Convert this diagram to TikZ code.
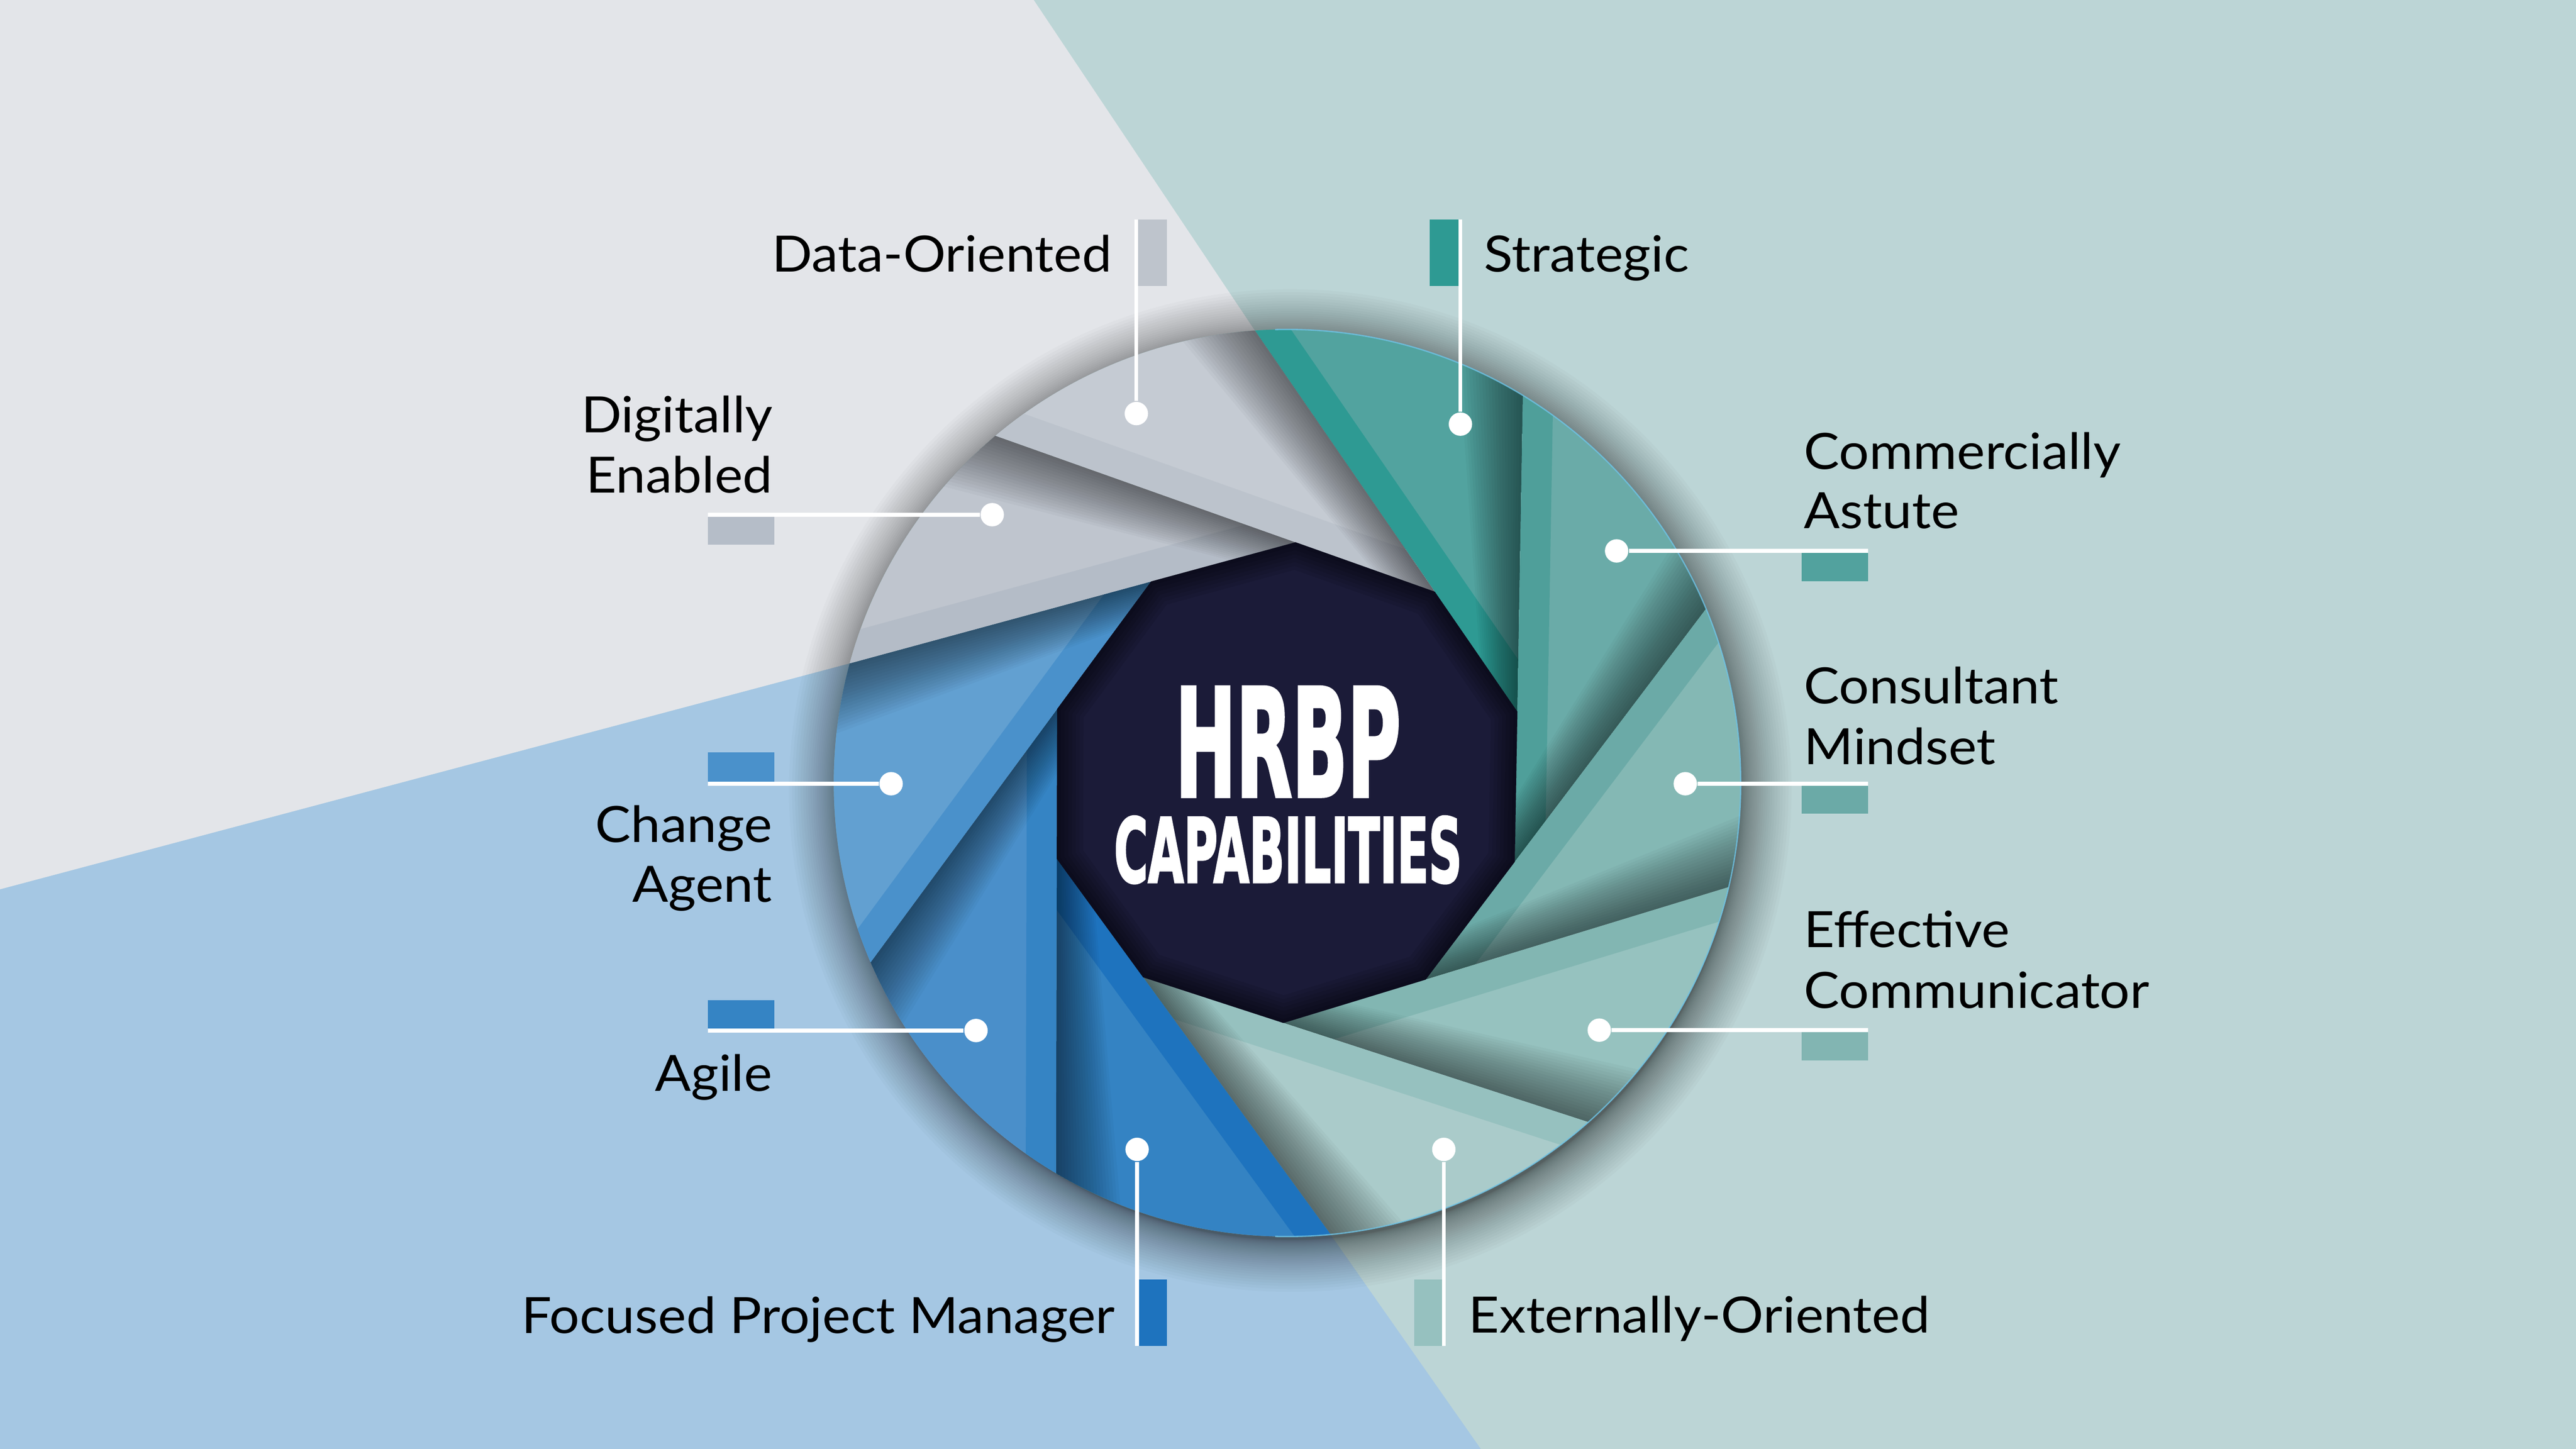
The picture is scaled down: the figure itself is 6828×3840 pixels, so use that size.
\documentclass[tikz,border=0pt]{standalone}
\usepackage{fontspec}
\usepackage{graphicx}
\usetikzlibrary{calc}
\newfontfamily\lblfont{Lato}[FakeStretch=1.065]
\newfontfamily\ttlfont{DejaVu Sans}[FakeBold=2.5]
\definecolor{bgGray}{HTML}{E3E5E9}
\definecolor{bgTeal}{HTML}{BCD5D6}
\definecolor{bgBlue}{HTML}{A5C7E3}
\definecolor{decFill}{HTML}{1B1B38}
\definecolor{rimLine}{HTML}{6EC3E6}
\definecolor{doBody}{HTML}{C5CBD3}\definecolor{doStripe}{HTML}{BCC3CC}
\definecolor{stBody}{HTML}{52A39F}\definecolor{stStripe}{HTML}{2E9A93}
\definecolor{caBody}{HTML}{6AABA8}\definecolor{caStripe}{HTML}{4F9F9A}
\definecolor{cmBody}{HTML}{84B8B4}\definecolor{cmStripe}{HTML}{6BAAA7}
\definecolor{ecBody}{HTML}{96C2BF}\definecolor{ecStripe}{HTML}{82B6B2}
\definecolor{eoBody}{HTML}{AACBCA}\definecolor{eoStripe}{HTML}{96C1BF}
\definecolor{fpBody}{HTML}{3483C3}\definecolor{fpStripe}{HTML}{1E73BE}
\definecolor{agBody}{HTML}{4A8FCA}\definecolor{agStripe}{HTML}{3584C4}
\definecolor{chBody}{HTML}{62A0D1}\definecolor{chStripe}{HTML}{4A91CB}
\definecolor{deBody}{HTML}{BFC5CE}\definecolor{deStripe}{HTML}{B4BCC7}
\definecolor{doKey}{HTML}{BEC4CC}\definecolor{stKey}{HTML}{2E9A93}
\definecolor{deKey}{HTML}{B5BDC8}\definecolor{caKey}{HTML}{52A29E}
\definecolor{cmKey}{HTML}{6BAAA7}\definecolor{ecKey}{HTML}{82B5B2}
\definecolor{chKey}{HTML}{4A91CB}\definecolor{agKey}{HTML}{3584C4}
\definecolor{fpKey}{HTML}{1E73BE}\definecolor{eoKey}{HTML}{96C1BF}
% one blade: #1 outer point of own edge, #2 apex, #3 outer point of next edge, #4 body, #5 stripe
\newcommand\Blade[5]{%
  \begin{scope}
    \clip (#1) -- (#2) -- (#3) -- cycle;
    \fill[#4] (#1) -- (#2) -- (#3) -- cycle;
    \draw[#5, line width=16pt] (#1) -- ($(#1)!1.05!(#2)$);
    \foreach \s in {15,30,...,300}
      \fill[black, opacity=0.028] (#2) -- (#3) -- ($(#3)!{\s*0.1pt}!-90:(#2)$) -- ($(#2)!{0.3*\s*0.1pt}!90:(#3)$) -- cycle;
  \end{scope}}
\tikzset{
  lbl/.style={inner sep=0pt, text=black, font=\lblfont\fontsize{13.26}{15.9}\selectfont},
  dot/.style={circle, fill=white, inner sep=0pt, minimum size=6.2pt},
  conn/.style={white, line width=1pt}
}
\begin{document}
\begin{tikzpicture}[x=0.1pt,y=-0.1pt]
\useasboundingbox (0,0) rectangle (6828,3840);
% geometry
\coordinate (C) at (3412,2075);
\coordinate (Ch) at (3420,2095);
\coordinate (A0) at (3434,1437);
\coordinate (A1) at (3803,1568);
\coordinate (A2) at (4022,1886);
\coordinate (A3) at (4015,2284);
\coordinate (A4) at (3779,2596);
\coordinate (A5) at (3402,2711);
\coordinate (A6) at (3030,2590);
\coordinate (A7) at (2801,2276);
\coordinate (A8) at (2802,1879);
\coordinate (A9) at (3051,1541);
\coordinate (F0) at ($(A1)!-6!(A2)$);
\coordinate (F1) at ($(A2)!-6!(A3)$);
\coordinate (F2) at ($(A3)!-6!(A4)$);
\coordinate (F3) at ($(A4)!-6!(A5)$);
\coordinate (F4) at ($(A5)!-6!(A6)$);
\coordinate (F5) at ($(A6)!-6!(A7)$);
\coordinate (F6) at ($(A7)!-6!(A8)$);
\coordinate (F7) at ($(A8)!-6!(A9)$);
\coordinate (F8) at ($(A9)!-6!(A0)$);
\coordinate (F9) at ($(A0)!-6!(A1)$);
% background
\fill[bgTeal] (0,0) rectangle (6828,3840);
\fill[bgGray] (0,0) -- (2740,0) -- (3326,876) -- (C) -- (2253,1758) -- (0,2357) -- cycle;
\fill[bgBlue] (0,2357) -- (2253,1758) -- (C) -- (3527,3272) -- (3925,3840) -- (0,3840) -- cycle;
% soft drop shadow of the disc
\foreach \i in {1,...,34}
  \fill[black, opacity=0.018] (Ch) circle[radius={1190+0.12*\i*\i}];
% blades
\begin{scope}
  \clip (C) circle[radius=1202];
  \fill[cmBody] (C) circle[radius=1210];
  \Blade{F0}{A2}{F1}{stBody}{stStripe}
  \Blade{F1}{A3}{F2}{caBody}{caStripe}
  \Blade{F2}{A4}{F3}{cmBody}{cmStripe}
  \Blade{F3}{A5}{F4}{ecBody}{ecStripe}
  \Blade{F4}{A6}{F5}{eoBody}{eoStripe}
  \Blade{F5}{A7}{F6}{fpBody}{fpStripe}
  \Blade{F6}{A8}{F7}{agBody}{agStripe}
  \Blade{F7}{A9}{F8}{chBody}{chStripe}
  \Blade{F8}{A0}{F9}{deBody}{deStripe}
  \Blade{F9}{A1}{F0}{doBody}{doStripe}
\end{scope}
% thin bright rim on the right half
\begin{scope}
  \clip (3380,0) rectangle (6828,3840);
  \draw[rimLine, line width=0.35pt, opacity=0.8] (C) circle[radius=1202];
\end{scope}
% centre decagon
\fill[decFill] (A0) -- (A1) -- (A2) -- (A3) -- (A4) -- (A5) -- (A6) -- (A7) -- (A8) -- (A9) -- cycle;
\begin{scope}
  \clip (A0) -- (A1) -- (A2) -- (A3) -- (A4) -- (A5) -- (A6) -- (A7) -- (A8) -- (A9) -- cycle;
  \foreach \w in {2,4,...,14}
    \draw[black, opacity=0.08, line width=\w pt] (A0) -- (A1) -- (A2) -- (A3) -- (A4) -- (A5) -- (A6) -- (A7) -- (A8) -- (A9) -- cycle;
\end{scope}
% title
\node[inner sep=0pt, anchor=base, text=white] (title) at (3414,2338) {\vbox{\offinterlineskip
  \hbox to 92.2pt{\hss\resizebox{59.8pt}{28.9pt}{\ttlfont\bfseries HRBP}\hss}
  \vskip 5.3pt
  \hbox{\resizebox{92.2pt}{17.5pt}{\ttlfont\bfseries CAPABILITIES}}}};
% key boxes
\fill[doKey] (3017,582) rectangle (3093,758);
\fill[stKey] (3790,582) rectangle (3866,758);
\fill[deKey] (1876,1369) rectangle (2053,1443);
\fill[chKey] (1876,1994) rectangle (2053,2072);
\fill[agKey] (1876,2651) rectangle (2053,2726);
\fill[fpKey] (3019,3391) rectangle (3093,3567);
\fill[eoKey] (3748,3391) rectangle (3822,3567);
\fill[caKey] (4776,1465) rectangle (4951,1540);
\fill[cmKey] (4776,2082) rectangle (4951,2156);
\fill[ecKey] (4776,2735) rectangle (4951,2810);
% connector ends
\coordinate (eDO) at (3012,582);
\coordinate (eST) at (3871,582);
\coordinate (eDE) at (1876,1364);
\coordinate (eCH) at (1876,2077);
\coordinate (eAG) at (1876,2731);
\coordinate (eFP) at (3014,3567);
\coordinate (eEO) at (3827,3567);
\coordinate (eCA) at (4951,1460);
\coordinate (eCM) at (4951,2077);
\coordinate (eEC) at (4951,2730);
% dots
\node[dot] (dDO) at (3012,1096) {};
\node[dot] (dST) at (3871,1124) {};
\node[dot] (dDE) at (2630,1364) {};
\node[dot] (dCH) at (2362,2077) {};
\node[dot] (dAG) at (2587,2731) {};
\node[dot] (dFP) at (3014,3046) {};
\node[dot] (dEO) at (3827,3046) {};
\node[dot] (dCA) at (4285,1460) {};
\node[dot] (dCM) at (4467,2077) {};
\node[dot] (dEC) at (4239,2730) {};
\foreach \n in {DO,ST,DE,CH,AG,FP,EO,CA,CM,EC}
  \draw[conn] (d\n) -- (e\n);
% labels
\node[lbl, anchor=base east] (tDO) at (2949,721) {Data-Oriented};
\node[lbl, anchor=base west] (tST) at (3932,721) {Strategic};
\node[lbl, anchor=base east] (tDE1) at (2050,1146) {Digitally};
\node[lbl, anchor=base east] (tDE2) at (2050,1306) {Enabled};
\node[lbl, anchor=base east] (tCH1) at (2049,2232) {Change};
\node[lbl, anchor=base east] (tCH2) at (2049,2390) {Agent};
\node[lbl, anchor=base east] (tAG) at (2049,2891) {Agile};
\node[lbl, anchor=base east] (tFP) at (2957,3534) {Focused Project Manager};
\node[lbl, anchor=base west] (tEO) at (3891,3532) {Externally-Oriented};
\node[lbl, anchor=base west] (tCA1) at (4780,1243) {Commercially};
\node[lbl, anchor=base west] (tCA2) at (4780,1400) {Astute};
\node[lbl, anchor=base west] (tCM1) at (4780,1865) {Consultant};
\node[lbl, anchor=base west] (tCM2) at (4780,2026) {Mindset};
\node[lbl, anchor=base west] (tEC1) at (4780,2511) {Effective};
\node[lbl, anchor=base west] (tEC2) at (4780,2672) {Communicator};
\end{tikzpicture}
\end{document}
